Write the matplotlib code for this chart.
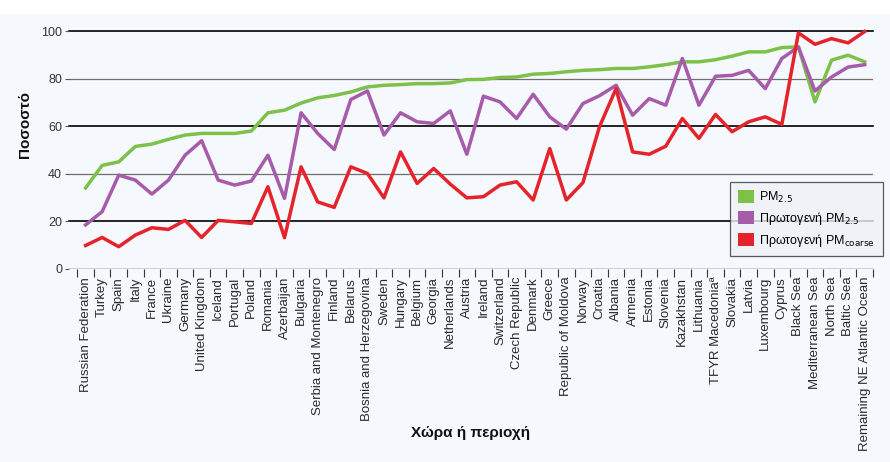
import matplotlib
matplotlib.use("Agg")
import matplotlib.pyplot as plt
from matplotlib.patches import Patch, Rectangle

plt.rcParams['font.family'] = ['Liberation Sans', 'DejaVu Sans']

countries = ["Russian Federation", "Turkey", "Spain", "Italy", "France", "Ukraine",
             "Germany", "United Kingdom", "Iceland", "Portugal", "Poland", "Romania",
             "Azerbaijan", "Bulgaria", "Serbia and Montenegro", "Finland", "Belarus",
             "Bosnia and Herzegovina", "Sweden", "Hungary", "Belgium", "Georgia",
             "Netherlands", "Austria", "Ireland", "Switzerland", "Czech Republic",
             "Denmark", "Greece", "Republic of Moldova", "Norway", "Croatia", "Albania",
             "Armenia", "Estonia", "Slovenia", "Kazakhstan", "Lithuania",
             "TFYR Macedonia\u00aa", "Slovakia", "Latvia", "Luxembourg", "Cyprus",
             "Black Sea", "Mediterranean Sea", "North Sea", "Baltic Sea",
             "Remaining NE Atlantic Ocean"]

pm25 = [34, 43.5, 45, 51.5, 52.5, 54.5, 56.3, 57, 57, 57, 58, 65.7, 66.8, 69.8,
        72, 73, 74.5, 76.6, 77.3, 77.6, 78, 78, 78.3, 79.7, 79.8, 80.6, 80.8, 82,
        82.3, 83, 83.6, 83.9, 84.4, 84.4, 85.1, 86, 87.2, 87.2, 88.1, 89.6, 91.4,
        91.4, 93.2, 93.5, 70.3, 87.9, 90, 87.2]

primary_pm25 = [18.4, 24, 39.4, 37.3, 31.4, 37.3, 47.8, 53.9, 37.3, 35.2, 36.9, 47.8,
                29.6, 65.7, 57, 50.2, 71.3, 74.9, 56.3, 65.7, 61.9, 61.2, 66.5, 48.2,
                72.7, 70.3, 63.3, 73.5, 64, 58.8, 69.6, 72.9, 77.3, 64.7, 71.7, 68.9,
                88.6, 68.9, 81.1, 81.5, 83.6, 75.9, 88.6, 93.5, 74.9, 80.8, 85, 86]

primary_coarse = [9.7, 13.1, 9.2, 14.1, 17.2, 16.5, 20.3, 13.1, 20.3, 19.7, 19, 34.5,
                  13, 42.9, 28.1, 25.8, 42.9, 40.1, 29.8, 49.2, 35.9, 42.2, 35.6, 29.8,
                  30.3, 35.2, 36.6, 28.9, 50.6, 28.9, 36.2, 59.8, 75.9, 49.2, 48.2,
                  51.6, 63.3, 54.9, 65, 57.7, 61.9, 64, 60.8, 99.4, 94.6, 97, 95.2, 100]

green = "#7DC14A"
purple = "#A65BAB"
red = "#E5232B"
bg = "#F5F8FC"

fig = plt.figure(figsize=(8.9, 4.62), dpi=100)
fig.set_facecolor(bg)
fig.patches.append(Rectangle((0, 1 - 14 / 462), 1, 14 / 462, transform=fig.transFigure,
                             facecolor="white", edgecolor="none", zorder=0))

ax = fig.add_axes([69 / 890, 1 - 268.5 / 462, (873 - 69) / 890, 237 / 462])
ax.set_facecolor(bg)
ax.set_xlim(-1.0, 47.5)
ax.set_ylim(0, 100)

# grid lines: alternate black / grey
for v in [20, 60, 100]:
    ax.axhline(v, color="black", lw=1.2, zorder=1, clip_on=False)
for v in [40, 80]:
    ax.axhline(v, color="#6F6F6F", lw=0.9, zorder=1)
ax.axhline(0, color="#333333", lw=1.0, zorder=1)

x = list(range(len(countries)))
ax.plot(x, pm25, color=green, lw=2.5, zorder=3, clip_on=False)
ax.plot(x, primary_pm25, color=purple, lw=2.5, zorder=4, clip_on=False)
ax.plot(x, primary_coarse, color=red, lw=2.5, zorder=5, clip_on=False)

for s in ax.spines.values():
    s.set_visible(False)

ax.set_yticks([0, 20, 40, 60, 80, 100])
ax.tick_params(axis="y", length=3, width=0.8, color="#555555", pad=2,
               labelsize=9, labelcolor="#333333")

ax.set_xticks(x)
ax.set_xticklabels(countries, rotation=90, fontsize=9.5, color="#2A2A2A")
ax.tick_params(axis="x", which="major", length=0, pad=6)
ax.set_xticks([i - 0.5 for i in range(len(countries) + 1)], minor=True)
ax.tick_params(axis="x", which="minor", length=6, width=0.8, color="#333333")

fig.text(25 / 890, 1 - 125 / 462, "Ποσοστό", rotation=90, ha="center", va="center",
         fontsize=11, fontweight="bold", color="#111111")
fig.text(471 / 890, 1 - 433 / 462, "Χώρα ή περιοχή", ha="center", va="center",
         fontsize=11, fontweight="bold", color="#111111")

handles = [Patch(facecolor=green, edgecolor="none"),
           Patch(facecolor=purple, edgecolor="none"),
           Patch(facecolor=red, edgecolor="none")]
labels = [r"PM$_{2.5}$", r"Πρωτογενή PM$_{2.5}$", r"Πρωτογενή PM$_{\mathrm{coarse}}$"]
leg = fig.legend(handles, labels, loc="upper left",
                 bbox_to_anchor=(730 / 890, 1 - 182 / 462), borderaxespad=0,
                 fontsize=9, frameon=True, fancybox=False, handlelength=1.3,
                 handleheight=1.3, handletextpad=0.45, labelspacing=0.4, borderpad=0.6)
leg.get_frame().set_edgecolor("#333333")
leg.get_frame().set_facecolor("#EEF2F7")
leg.get_frame().set_linewidth(0.9)
leg.set_zorder(10)

fig.savefig("out.png", dpi=100, facecolor=fig.get_facecolor())
